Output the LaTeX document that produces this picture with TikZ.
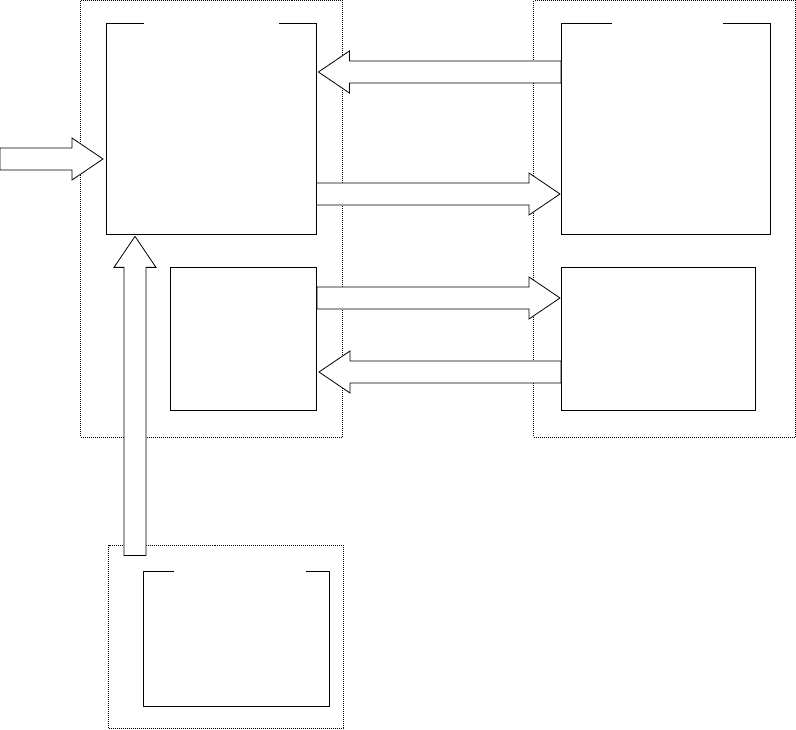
\documentclass[tikz,border=0pt]{standalone}
\usetikzlibrary{calc}

\tikzset{
  group/.style={draw, line width=1pt, dash pattern=on 1pt off 1pt, anchor=north west, inner sep=0pt},
  panel/.style={anchor=north west, inner sep=0pt},
  frame/.style={line width=1pt},
  blockarrow/.style={draw, fill=white, line width=0.8pt, line join=miter},
}

% box with a gap in its top edge: #1 node, #2 left piece, #3 right piece
\newcommand{\gapframe}[3]{%
  \draw[frame] ($(#1.north west)+(#2,0)$) -- (#1.north west) -- (#1.south west)
    -- (#1.south east) -- (#1.north east) -- ($(#1.north east)+(-#3,0)$);
}

% hollow block arrow from #1 to its tip #2
\newcommand{\blockarrow}[2]{%
  \coordinate (bah) at ($(#2)!31pt!(#1)$);
  \draw[blockarrow] ($(#1)!11pt!90:(#2)$) -- ($(bah)!11pt!90:(#2)$)
    -- ($(bah)!21pt!90:(#2)$) -- (#2) -- ($(bah)!21pt!-90:(#2)$)
    -- ($(bah)!11pt!-90:(#2)$) -- ($(#1)!11pt!-90:(#2)$) -- cycle;
}

\begin{document}
\begin{tikzpicture}[x=1pt, y=-1pt]
    \useasboundingbox (0,0) rectangle (796,730);

    % dotted groups
    \node[group, minimum width=262pt, minimum height=436pt] (grpL) at (80,0.5) {};
    \node[group, minimum width=262pt, minimum height=436pt] (grpR) at (533,0.5) {};
    \node[group, minimum width=235pt, minimum height=183pt] (grpB) at (108,545) {};

    % panels
    \node[panel, minimum width=210pt, minimum height=210pt] (mainL) at (106,24) {};
    \node[panel, minimum width=209pt, minimum height=210pt] (mainR) at (561,24) {};
    \node[panel, minimum width=146pt, minimum height=143pt, draw, line width=1pt] (subL) at (170,267) {};
    \node[panel, minimum width=194pt, minimum height=143pt, draw, line width=1pt] (subR) at (561,267) {};
    \node[panel, minimum width=186pt, minimum height=135pt] (base) at (143,571) {};

    \gapframe{mainL}{38}{37}
    \gapframe{mainR}{51}{47}
    \gapframe{base}{31}{23}

    % arrow end points
    \coordinate (feedS) at (0,159);
    \coordinate (feedE) at ($(feedS -| mainL.west)+(-3,0)$);
    \coordinate (backS) at (mainR.west |- 0,72);
    \coordinate (backE) at ($(mainL.east |- 0,72)+(2,0)$);
    \coordinate (fwdS) at (mainL.east |- 0,194);
    \coordinate (fwdE) at ($(mainR.west |- 0,194)+(-1,0)$);
    \coordinate (subS) at (subL.east |- 0,298);
    \coordinate (subE) at ($(subR.west |- 0,298)+(-1,0)$);
    \coordinate (retS) at (subR.west |- 0,372);
    \coordinate (retE) at ($(subL.east |- 0,372)+(2,0)$);
    \coordinate (upS) at ($(mainL.south west)+(29,321)$);
    \coordinate (upE) at ($(mainL.south west)+(29,2)$);

    % block arrows
    \blockarrow{feedS}{feedE}
    \blockarrow{backS}{backE}
    \blockarrow{fwdS}{fwdE}
    \blockarrow{subS}{subE}
    \blockarrow{retS}{retE}
    \blockarrow{upS}{upE}
\end{tikzpicture}
\end{document}
